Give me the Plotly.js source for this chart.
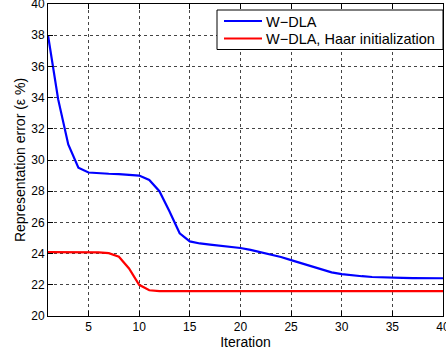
<!DOCTYPE html>
<html><head><meta charset="utf-8">
<script src="https://cdn.plot.ly/plotly-3.0.1.min.js"></script>
<style>html,body{margin:0;padding:0;background:#fff}#chart{width:446px;height:353px}</style>
</head><body><div id="chart"></div>
<script>
const iterations = [1,2,3,4,5,6,7,8,9,10,11,12,13,14,15,16,17,18,19,20,21,22,23,24,25,26,27,28,29,30,31,32,33,34,35,36,37,38,39,40];
const wdla = [38.0,33.9,31.0,29.5,29.2,29.15,29.12,29.1,29.07,29.0,28.72,28.0,26.7,25.3,24.78,24.65,24.58,24.52,24.45,24.36,24.24,24.1,23.95,23.78,23.58,23.38,23.15,22.95,22.8,22.68,22.6,22.55,22.5,22.47,22.45,22.44,22.43,22.43,22.42,22.42];
const wdlaHaar = [24.1,24.1,24.1,24.1,24.1,24.08,24.03,23.8,23.05,22.0,21.65,21.6,21.6,21.6,21.6,21.6,21.6,21.6,21.6,21.6,21.6,21.6,21.6,21.6,21.6,21.6,21.6,21.6,21.6,21.6,21.6,21.6,21.6,21.6,21.6,21.6,21.6,21.6,21.6,21.6];
const seriesNames = ['W\u2212DLA', 'W\u2212DLA, Haar initialization'];
const seriesColors = ['#0000ff', '#ff0000'];
const xTicks = [5,10,15,20,25,30,35,40];
const yTicks = [20,22,24,26,28,30,32,34,36,38,40];

const font = 'Liberation Sans, Arial, sans-serif';
const W = 446, H = 353;
const M = {l: 48, r: 3, t: 4, b: 37};
const pw = W - M.l - M.r, ph = H - M.t - M.b;
const px = v => (v - M.l) / pw;      // pixel -> paper x
const py = v => (H - M.b - v) / ph;  // pixel -> paper y

const axisCommon = {
  showline: true, linecolor: '#000', linewidth: 1, mirror: 'ticks',
  ticks: 'inside', ticklen: 5, tickcolor: '#000',
  showgrid: true, gridcolor: '#444', griddash: 'dot', gridwidth: 1,
  zeroline: false, ticklabeloverflow: 'allow',
  tickfont: {family: font, size: 12, color: '#000'}
};
const series = [wdla, wdlaHaar];
const data = series.map((ys, i) => ({
  x: iterations, y: ys, name: seriesNames[i], mode: 'lines',
  line: {color: seriesColors[i], width: 2.2}, showlegend: false
}));

// legend box (drawn manually to match reference spacing)
const legTop = 10, legBottom = 49.5, legLeft = 217, legRight = 443;
const rowY = [21, 38.5];
const shapes = [{type: 'rect', xref: 'paper', yref: 'paper', x0: px(legLeft), x1: px(legRight),
  y0: py(legBottom), y1: py(legTop), line: {color: '#000', width: 1}, fillcolor: '#fff', layer: 'above'}];
const annotations = [];
seriesNames.forEach((nm, i) => {
  shapes.push({type: 'line', xref: 'paper', yref: 'paper', x0: px(224), x1: px(262),
    y0: py(rowY[i]), y1: py(rowY[i]), line: {color: seriesColors[i], width: 2.2}, layer: 'above'});
  annotations.push({xref: 'paper', yref: 'paper', x: px(264), y: py(rowY[i] + 0.5), xanchor: 'left', yanchor: 'middle',
    text: nm, showarrow: false, font: {family: font, size: 14.5, color: '#000'}});
});

const layout = {
  width: W, height: H, margin: M,
  paper_bgcolor: '#fff', plot_bgcolor: '#fff',
  showlegend: false, shapes, annotations,
  xaxis: Object.assign({}, axisCommon, {range: [1, 40], tickvals: xTicks, ticktext: xTicks.map(String),
    title: {text: 'Iteration', font: {family: font, size: 14, color: '#000'}, standoff: 2}}),
  yaxis: Object.assign({}, axisCommon, {range: [20, 40], tickvals: yTicks, ticktext: yTicks.map(String),
    title: {text: 'Representation error (\u03b5 %)', font: {family: font, size: 14, color: '#000'}, standoff: 2}})
};
Plotly.newPlot('chart', data, layout, {displayModeBar: false, staticPlot: true});
</script></body></html>
